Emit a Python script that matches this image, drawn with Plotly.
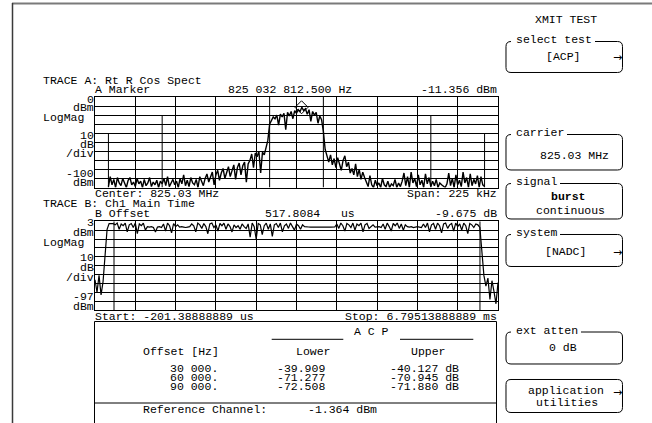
import numpy as np
import plotly.graph_objects as go

W, H = 652, 423
FONT = "Liberation Mono"
FS = 11.5

# ---------------- Trace A : spectrum ----------------
center_mhz = 825.03
span_khz = 225.0
freq_start_khz = -105.0
freq_stop_khz = 105.0
spectrum_dbm = [
    -99, -88, -97, -91, -100, -89, -95, -98, -90, -96,
    -100, -92, -89, -97, -94, -99, -90, -96, -93, -100,
    -91, -98, -95, -89, -99, -94, -97, -92, -100, -93,
    -96, -90, -98, -88, -99, -95, -91, -97, -93, -100,
    -90, -96, -86, -98, -92, -99, -89, -95, -97, -91,
    -100, -88, -94, -98,
    -90, -85, -94, -88, -83, -97, -86, -81, -92, -84,
    -79, -90, -82, -77, -88, -80, -75, -91, -78, -73,
    -86, -76, -72, -94, -74,
    -70, -63, -78, -62, -66, -60, -84, -61, -64,
    -55, -48, -30,
    -26, -22, -24, -20, -31, -19, -22, -18, -36, -17,
    -21, -16, -24, -15, -18, -14, -16, -11.4, -15, -13,
    -19, -14, -27, -16, -20, -17, -29, -21, -25,
    -38, -58,
    -66, -72, -64, -75, -68, -78, -67, -73, -81, -70, -65, -77, -72, -84,
    -79, -86, -74, -88, -80, -91, -83, -89,
    -94, -99, -87, -97, -100, -92, -98, -95, -100, -90,
    -97, -99, -93, -100, -96, -98, -91, -100, -95, -99,
    -93, -84, -98, -88, -100, -83, -95, -90, -99, -86,
    -97, -92, -100, -85, -96, -89, -99, -93, -98, -91,
    -100, -95, -97, -99, -100, -96, -84, -98, -90, -100,
    -86, -97, -92, -99, -83, -95, -89, -100, -85, -98,
    -91, -96, -87, -100, -88, -97, -99,
]
marker_hz = 825032812.5
marker_dbm = -11.356
chan_edge_khz = [-105, -75, -15, 15, 75, 105]
chan_edge_top_db = [-40, -20, 0, 0, -20, -40]

# ---------------- Trace B : main time ----------------
t_start_us = -201.38888889
t_stop_us = 6795.13888889
burst_dbm = [
    -63, -77, -58, -80, -65,
    -38, -6,
    0.5, 0.5, 0.3,
    -1, 1, -6, 0, -2, 1, -9, -1, 0.5, -4, 1, -11, 0, -2, 1, -7,
    -3, -3.5, -3, -4, -9, -3.5, -3, -4,
    0, -8, 1, -2, -10, 0.5, -3, -1,
    -3.5, -3, -3.5, -4, -3.5, -3,
    0, -2, -9, 1, -1, -5, 0.5, -3, -11, 0, 1, -4, -1, -8, 0.5, -2, 1, -6, 0, -3, -9,
    -1, -4, -2, -6, 0, -3, -5,
    0, -15, 1, -3, -17, 0.5, -1, -12, -2, 1, -6, 0, -14, -1, 0.5, -4, 1, -9, -2, 0, -5, 1, -3, -7, 0,
    -2, -6, -1, -3,
    -3.5, -3.4, -3.6, -3.5, -3.5, -3.4, -3.5, -3.6, -3.5, -3.4, -3.5, -3.5, -3.6, -3.5, -3.4,
    0, -5, 1, -2, -8, 0.5, -1, -4, 1, -7, 0, -2, 1, -9, -1, 0.5, -5, -3, -1,
    -3.5, -3.5, -3, -4,
    0, -6, 1, -3, -8, 0.5, -2, 1, -5, 0, -7, -1, -3,
    -3.5, -3, -4, -3.5, -3, -3.5, -4,
    0, -4, 1, -9, -1, 0.5, -6, 1, -2, -10, 0, 1, -5, -1, 0.5, -8, 1, -3, 0, -7, 1, -2, -11, 0.5, -1, -4, 0,
    -1, -4, -30, -58,
    -70, -61, -85, -64, -76, -90, -66,
]
b_offset_us = 517.8084
b_offset_db = -9.675
gate_us = [128.5, 6482.0]

# ---------------- ACP table ----------------
acp_offsets = ["30 000.", "60 000.", "90 000."]
acp_lower = [-39.909, -71.277, -72.508]
acp_upper = [-40.127, -70.945, -71.880]
ref_channel_dbm = -1.364


def X(px):
    return px / W


def Y(py):
    return 1 - py / H


freq_khz = np.linspace(freq_start_khz, freq_stop_khz, len(spectrum_dbm))
time_us = np.linspace(t_start_us, t_stop_us, len(burst_dbm))

fig = go.Figure()
fig.add_trace(go.Scatter(x=freq_khz, y=spectrum_dbm, mode="lines",
                         line=dict(color="black", width=1.4), xaxis="x", yaxis="y",
                         hoverinfo="skip"))
mk_khz = (marker_hz - center_mhz * 1e6) / 1e3
fig.add_trace(go.Scatter(x=[mk_khz], y=[marker_dbm], mode="markers",
                         marker=dict(symbol="diamond-open", size=10, color="black",
                                     line=dict(width=1, color="black")),
                         xaxis="x", yaxis="y", hoverinfo="skip"))
fig.add_trace(go.Scatter(x=time_us, y=burst_dbm, mode="lines",
                         line=dict(color="black", width=1.2), xaxis="x2", yaxis="y2",
                         hoverinfo="skip"))

axcommon = dict(showgrid=True, gridcolor="black", gridwidth=1, showticklabels=False,
                ticks="", zeroline=False, showline=True, linecolor="black",
                linewidth=1, mirror=True, fixedrange=True)
xdom = [X(95), X(498)]
fig.update_layout(
    width=W, height=H, autosize=False,
    margin=dict(l=0, r=0, t=0, b=0),
    paper_bgcolor="white", plot_bgcolor="white", showlegend=False,
    xaxis=dict(domain=xdom, range=[-span_khz / 2, span_khz / 2], tick0=-span_khz / 2,
               dtick=span_khz / 10, anchor="y", **axcommon),
    yaxis=dict(domain=[Y(187.5), Y(97)], range=[-100, 0], tick0=0, dtick=10,
               anchor="x", **axcommon),
    xaxis2=dict(domain=xdom, range=[t_start_us, t_stop_us], tick0=t_start_us,
                dtick=(t_stop_us - t_start_us) / 10, anchor="y2", **axcommon),
    yaxis2=dict(domain=[Y(310), Y(221.3)], range=[-97, 3], tick0=3, dtick=10,
                anchor="x2", **axcommon),
)

shapes = []
for k, top in zip(chan_edge_khz, chan_edge_top_db):
    shapes.append(dict(type="line", xref="x", yref="y", x0=k, x1=k, y0=-100, y1=top,
                       line=dict(color="black", width=1)))
for g in gate_us:
    shapes.append(dict(type="line", xref="x2", yref="y2", x0=g, x1=g, y0=-97, y1=3,
                       line=dict(color="black", width=1)))


def pline(x0, y0, x1, y1, color="black", width=1):
    shapes.append(dict(type="line", xref="paper", yref="paper", x0=X(x0), y0=Y(y0),
                       x1=X(x1), y1=Y(y1), line=dict(color=color, width=width)))


# frame
pline(12, 3.5, 652, 3.5, "#7a7a7a", 2)
pline(12.5, 3, 12.5, 423, "#3a3a3a", 1.5)
# ACP box
pline(94.5, 321.5, 496.5, 321.5)
pline(94.5, 321.5, 94.5, 423)
pline(496.5, 321.5, 496.5, 423)
pline(94.5, 403, 496.5, 403)
pline(271.7, 339.3, 343.3, 339.3)
pline(400, 339.3, 473.3, 339.3)

annotations = []


def txt(s, x, y, anchor="left", size=FS, family=FONT):
    annotations.append(dict(text=s, x=X(x), y=Y(y), xref="paper", yref="paper",
                            xanchor=anchor, yanchor="middle", showarrow=False,
                            borderpad=0, borderwidth=0,
                            font=dict(family=family, size=size, color="black")))


# Trace A header / labels
txt("TRACE A: Rt R Cos Spect", 43, 80.5)
txt("A Marker", 95, 89.3)
txt(f"{marker_hz:,.3f}".replace(",", " ") + " Hz", 228, 89.3)
txt(f"{marker_dbm:.3f} dBm", 497, 89.3, "right")
for s, y in [("0", 99), ("dBm", 108), ("10", 135.5), ("dB", 144), ("/div", 153.5),
             ("-100", 173), ("dBm", 182.5)]:
    txt(s, 94, y, "right")
txt("LogMag", 43, 117.5)
txt(f"Center: {center_mhz:.2f} MHz", 95, 193)
txt(f"Span: {span_khz:.0f} kHz", 497, 193, "right")

# Trace B header / labels
txt("TRACE B: Ch1 Main Time", 43, 203.5)
txt("B Offset", 95, 213.5)
txt(f"{b_offset_us:.4f}   us", 265, 213.5)
txt(f"{b_offset_db:.3f} dB", 497, 213.5, "right")
for s, y in [("3", 222.5), ("dBm", 232.5), ("10", 257), ("dB", 267), ("/div", 277.5),
             ("-97", 296.5), ("dBm", 306)]:
    txt(s, 94, y, "right")
txt("LogMag", 43, 242)
txt(f"Start: {t_start_us:.8f} us", 95, 316.5)
txt(f"Stop: {t_stop_us / 1000:.11f} ms", 497, 316.5, "right")

# ACP table
txt("A C P", 371.7, 331.5, "center")
txt("Offset [Hz]", 142.7, 351.7)
txt("Lower", 313.7, 351.7, "center")
txt("Upper", 428, 351.7, "center")
for i, (o, lo, up) in enumerate(zip(acp_offsets, acp_lower, acp_upper)):
    y = 368.3 + 9.2 * i
    txt(o, 218.3, y, "right")
    txt(f"{lo:.3f}", 276.7, y)
    txt(f"{up:.3f} dB", 390, y)
txt("Reference Channel:", 143.3, 409)
txt(f"{ref_channel_dbm:.3f} dBm", 308, 409)

# Softkeys
txt("XMIT TEST", 566, 20, "center")
BX0, BX1, R = 506, 622.5, 5


def P(x, y):
    return f"{X(x):.5f},{Y(y):.5f}"


softkeys = [
    dict(label="select test", top=41.5, bottom=72.5,
         lines=[("[ACP]", 563, 56.5)], arrow=57.5),
    dict(label="carrier", top=134.5, bottom=170,
         lines=[(f"{center_mhz:.2f} MHz", 574, 155)], arrow=None),
    dict(label="signal", top=183.5, bottom=219,
         lines=[("<b>burst</b>", 568, 196.7), ("continuous", 570, 210.7)], arrow=None),
    dict(label="system", top=234.5, bottom=266.5,
         lines=[("[NADC]", 565, 251.7)], arrow=252),
    dict(label="ext atten", top=332, bottom=364,
         lines=[("0 dB", 563, 347)], arrow=None),
    dict(label=None, top=379.5, bottom=412.5,
         lines=[("application", 566, 390), ("utilities", 567, 402.7)], arrow=392.5),
]
for sk in softkeys:
    t, b = sk["top"], sk["bottom"]
    if sk["label"]:
        lx = 516
        txt(sk["label"], lx, t - 2)
        start = lx + 7 * len(sk["label"]) + 2
    else:
        start = BX0 + R
    path = (f"M {P(start, t)} L {P(BX1 - R, t)} Q {P(BX1, t)} {P(BX1, t + R)} "
            f"L {P(BX1, b - R)} Q {P(BX1, b)} {P(BX1 - R, b)} "
            f"L {P(BX0 + R, b)} Q {P(BX0, b)} {P(BX0, b - R)} "
            f"L {P(BX0, t + R)} Q {P(BX0, t)} {P(BX0 + R, t)}")
    shapes.append(dict(type="path", xref="paper", yref="paper", path=path,
                       line=dict(color="black", width=1)))
    for s, x, y in sk["lines"]:
        txt(s, x, y, "center")
    if sk["arrow"] is not None:
        txt("\u2192", 617, sk["arrow"], "center", size=11, family="DejaVu Sans")

fig.update_layout(shapes=shapes, annotations=annotations)
fig.write_html("out.html", config={"displayModeBar": False, "staticPlot": True},
               post_script="document.body.style.margin='0';document.body.style.overflow='hidden';")
